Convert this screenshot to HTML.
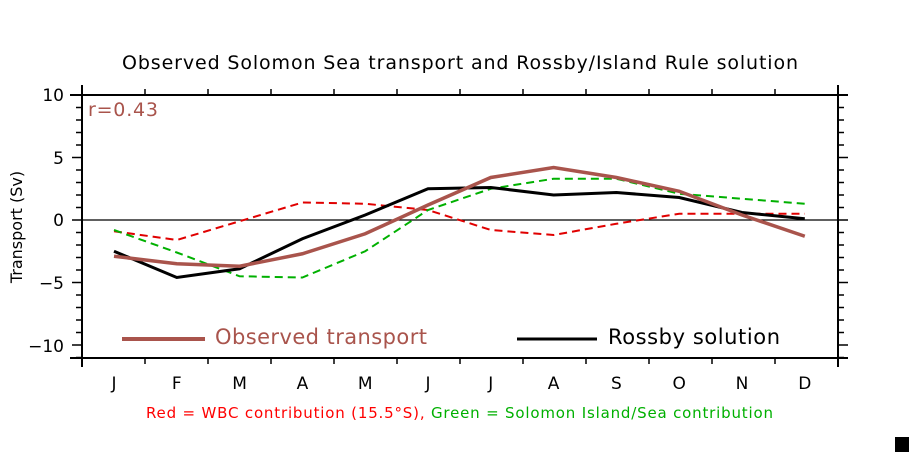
<!DOCTYPE html>
<html><head><style>body{margin:0;background:#fff}svg{display:block}text{font-family:"DejaVu Sans","Liberation Sans",sans-serif}</style></head><body>
<svg width="910" height="454" xmlns="http://www.w3.org/2000/svg">
<text x="122" y="69" font-size="19" textLength="676" lengthAdjust="spacing" fill="#000">Observed Solomon Sea transport and Rossby/Island Rule solution</text>
<g stroke="#000" stroke-width="2" fill="none">
<line x1="82" y1="85" x2="82" y2="367"/>
<line x1="838" y1="85" x2="838" y2="367"/>
<line x1="70" y1="95" x2="848" y2="95"/>
<line x1="70" y1="358" x2="848" y2="358"/>
<line x1="82" y1="220" x2="838" y2="220" stroke-width="1.3"/>
</g>
<g id="t" stroke="#000" stroke-width="1.5"></g>
<text x="88" y="116" font-size="19" textLength="70" lengthAdjust="spacing" fill="#a9544c">r=0.43</text>
<g font-size="17" fill="#000" text-anchor="end">
<text x="64" y="101">10</text><text x="64" y="164">5</text><text x="64" y="226">0</text><text x="64" y="289">−5</text><text x="64" y="352">−10</text>
</g>
<text transform="translate(22,227) rotate(-90)" font-size="16" text-anchor="middle">Transport (Sv)</text>
<g id="ml" font-size="17" text-anchor="middle"></g>
<g fill="none" stroke-width="2" stroke-dasharray="8,5">
<polyline id="rd" stroke="#e00000"/>
<polyline id="gd" stroke="#00b000"/>
</g>
<polyline id="bk" fill="none" stroke="#000" stroke-width="3"/>
<polyline id="ob" fill="none" stroke="#a9544c" stroke-width="3.5"/>
<line x1="122" y1="339" x2="205" y2="339" stroke="#a9544c" stroke-width="4"/>
<text x="215" y="344" font-size="21" textLength="212" lengthAdjust="spacing" fill="#a9544c">Observed transport</text>
<line x1="517" y1="339" x2="597" y2="339" stroke="#000" stroke-width="3"/>
<text x="608" y="344" font-size="21" textLength="172" lengthAdjust="spacing" fill="#000">Rossby solution</text>
<text x="146" y="418" font-size="15" textLength="627" lengthAdjust="spacing"><tspan fill="#f00">Red = WBC contribution (15.5°S), </tspan><tspan fill="#00b000">Green = Solomon Island/Sea contribution</tspan></text>
<rect x="895" y="437" width="14" height="15" fill="#000"/>
</svg>
<script>
function X(i){return 114+i*62.8}function Y(v){return 220-v*12.5}
function pl(id,a){document.getElementById(id).setAttribute("points",a.map(function(v,i){return X(i)+","+Y(v)}).join(" "))}
pl("ob",[-2.9,-3.5,-3.7,-2.7,-1.1,1.2,3.4,4.2,3.4,2.3,0.4,-1.3]);
pl("bk",[-2.5,-4.6,-3.9,-1.5,0.4,2.5,2.6,2.0,2.2,1.8,0.6,0.1]);
pl("rd",[-0.9,-1.6,-0.1,1.4,1.3,0.8,-0.8,-1.2,-0.3,0.5,0.5,0.5]);
pl("gd",[-0.8,-2.6,-4.5,-4.6,-2.5,0.8,2.5,3.3,3.3,2.1,1.7,1.3]);
var t=document.getElementById("t"),h="";
for(var v=-11;v<=10;v++){var y=Y(v),L=(v%5==0)?10:6;h+='<line x1="'+(82-L)+'" y1="'+y+'" x2="82" y2="'+y+'"/><line x1="838" y1="'+y+'" x2="'+(838+L)+'" y2="'+y+'"/>'}
for(var i=1;i<12;i++){var x=82+i*63;h+='<line x1="'+x+'" y1="95" x2="'+x+'" y2="89"/><line x1="'+x+'" y1="358" x2="'+x+'" y2="364"/>'}
t.innerHTML=h;
var m="JFMAMJJASOND",g=document.getElementById("ml"),s="";
for(var i=0;i<12;i++)s+='<text x="'+X(i)+'" y="389">'+m[i]+'</text>';
g.innerHTML=s;
</script>
</body></html>
